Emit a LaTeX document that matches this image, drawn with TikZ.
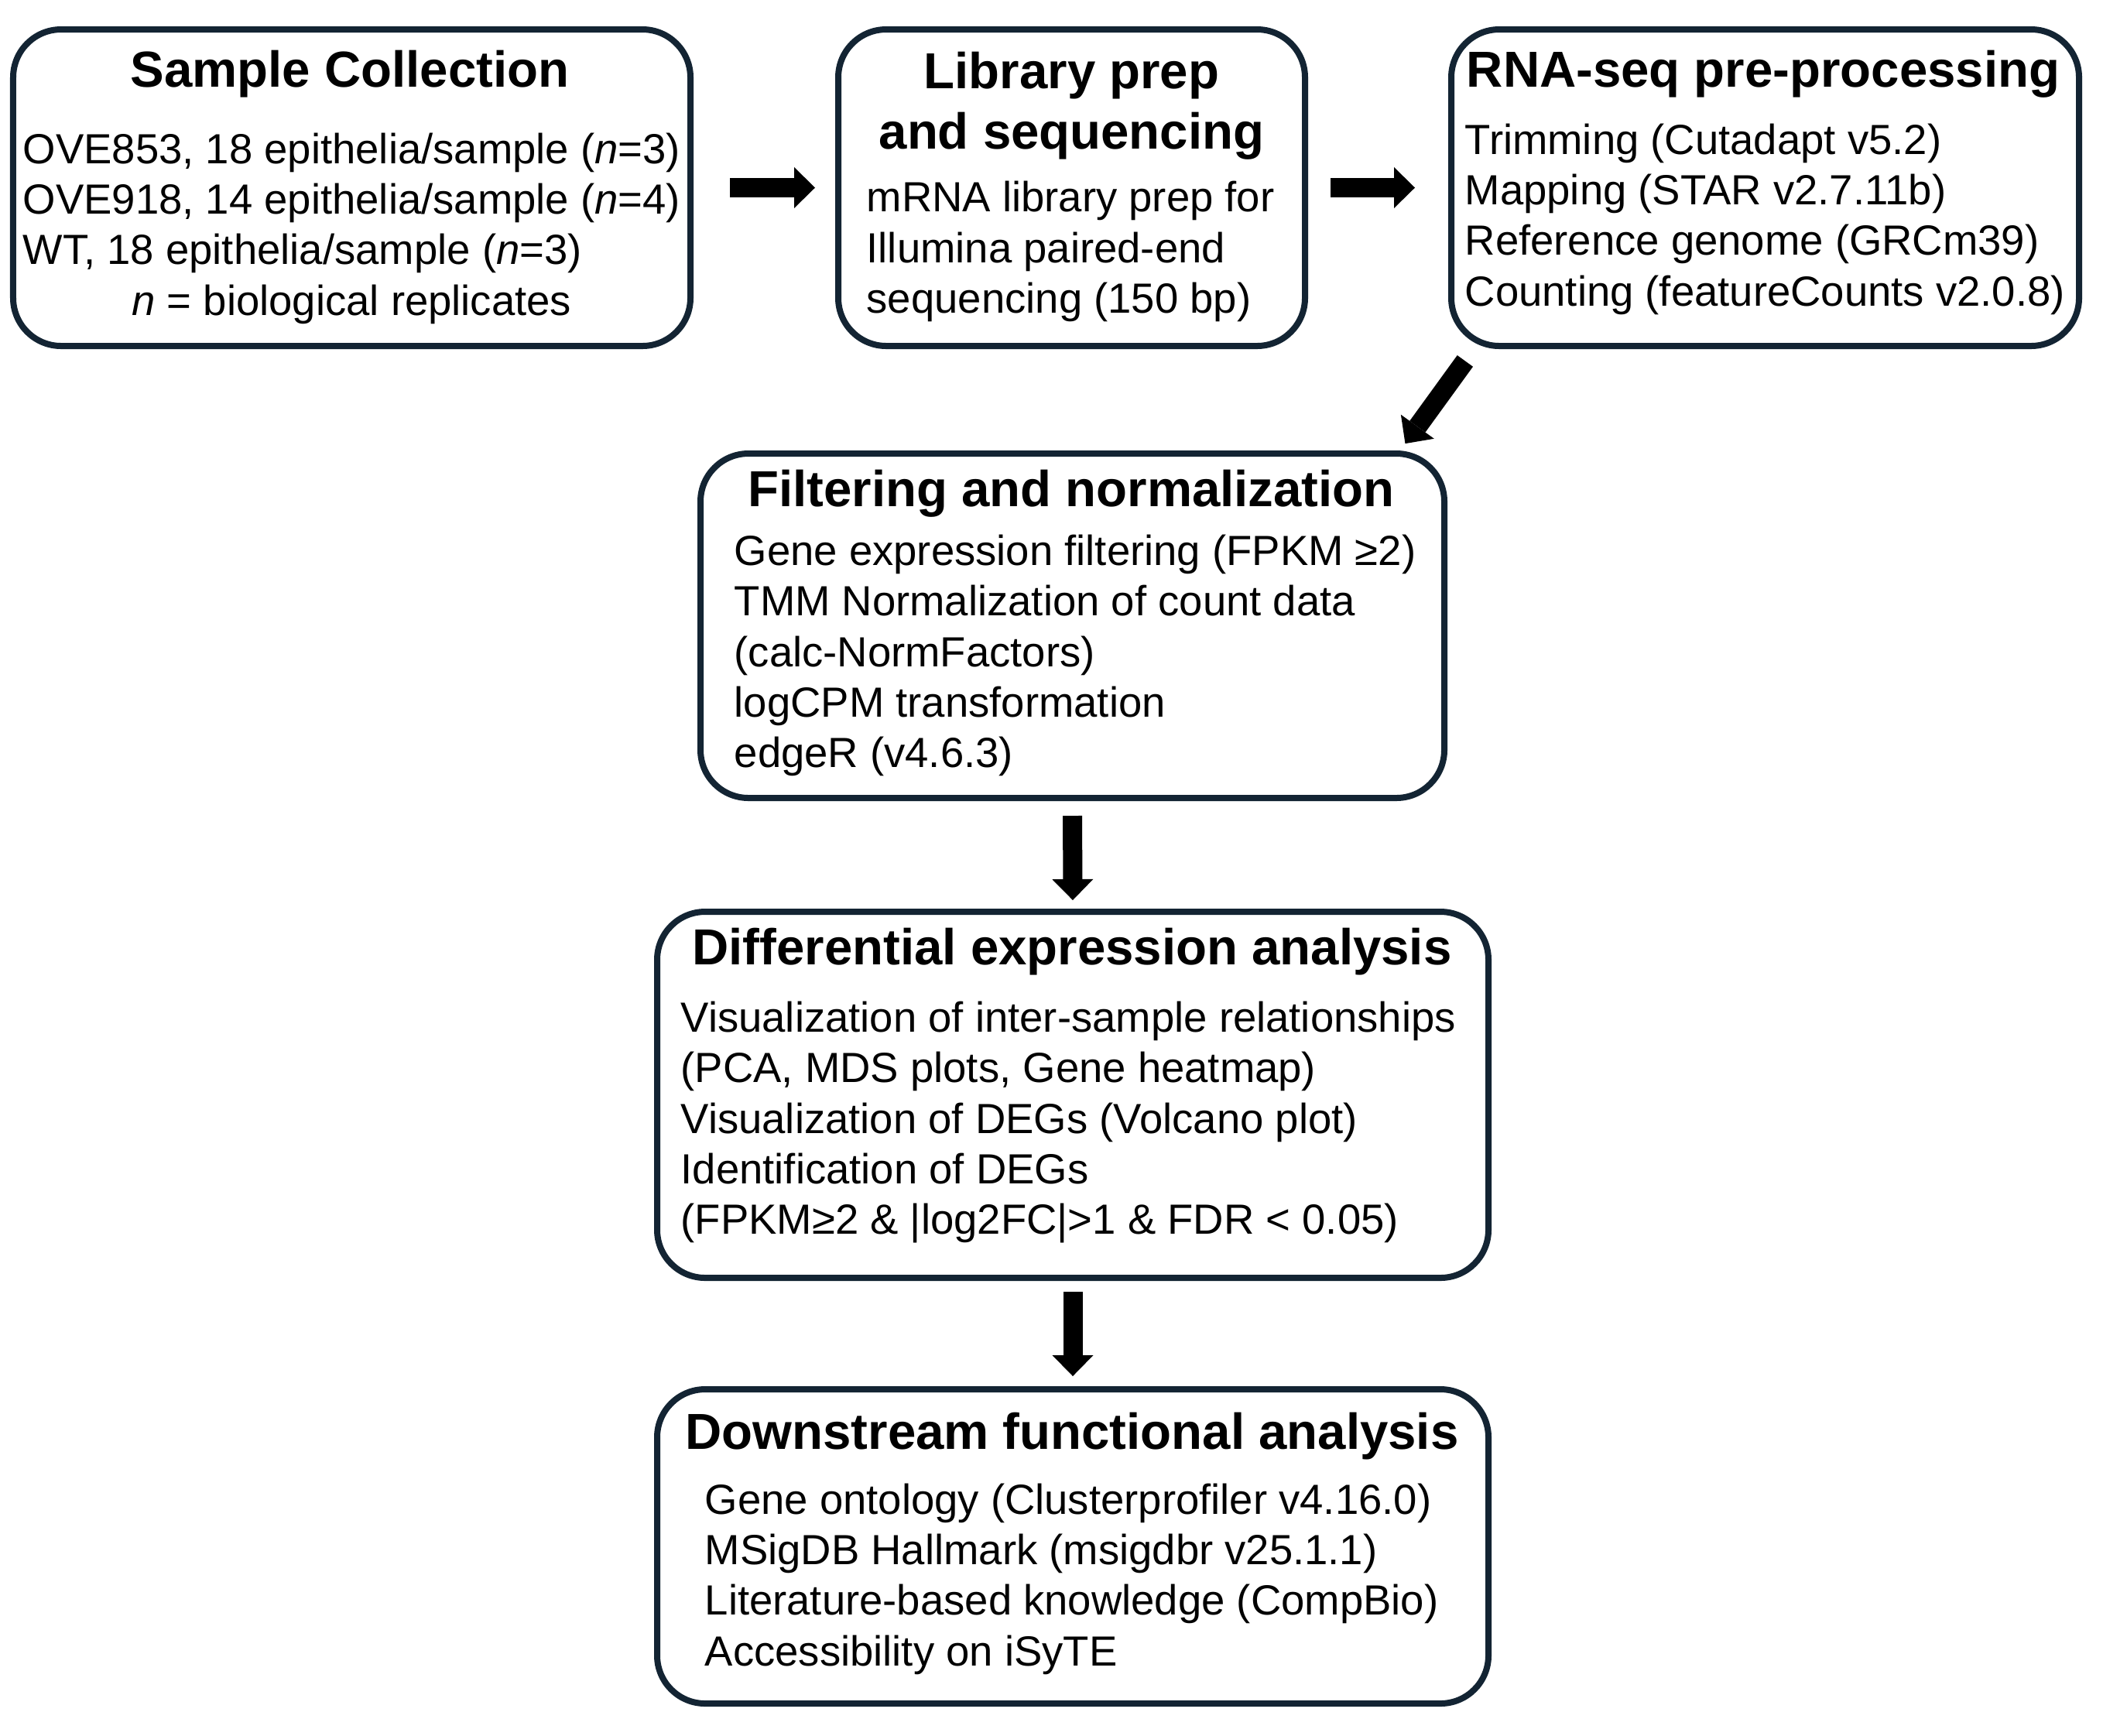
\documentclass[tikz,border=0pt]{standalone}
\usepackage{fontspec}
\setmainfont{Liberation Sans}
\definecolor{boxnavy}{RGB}{19, 36, 51}
\usetikzlibrary{arrows.meta, positioning}

\begin{document}
\begin{tikzpicture}[
  stage/.style={draw=boxnavy, line width=0.08cm, rounded corners=0.62cm, inner sep=0pt},
  ttl/.style={font=\fontsize{18.6}{22.3}\selectfont\bfseries, align=center, inner sep=0pt},
  txt/.style={font=\fontsize{15.5}{18.6}\selectfont, align=left, inner sep=0pt, anchor=west},
  flow/.style={line width=0.25cm, -{Triangle[width=0.53cm, length=0.27cm, line width=0pt]}}
]
  \useasboundingbox (0,0) rectangle (27.17,-22.42);

  \node[stage, minimum width=8.75cm, minimum height=4.09cm] (sc) at (4.545,-2.425) {};
  \node[stage, minimum width=6.03cm, minimum height=4.09cm] (lp) at (13.845,-2.425) {};
  \node[stage, minimum width=8.11cm, minimum height=4.09cm] (rp) at (22.805,-2.425) {};
  \node[stage, minimum width=9.61cm, minimum height=4.45cm] (fn) at (13.855,-8.085) {};
  \node[stage, minimum width=10.74cm, minimum height=4.73cm] (de) at (13.86,-14.145) {};
  \node[stage, minimum width=10.74cm, minimum height=4.06cm] (da) at (13.86,-19.98) {};

  \node[ttl] (sc-t) at (4.52,-0.96) {Sample Collection};
  \node[txt] (sc-b) at (0.29,-2.96) {\begin{tabular}{@{}l@{}}
    OVE853, 18 epithelia/sample (\textit{n}=3)\\
    OVE918, 14 epithelia/sample (\textit{n}=4)\\
    WT, 18 epithelia/sample (\textit{n}=3)\\
    \multicolumn{1}{@{}c@{}}{\textit{n} = biological replicates}
  \end{tabular}};

  \node[ttl] (lp-t) at (13.845,-1.37) {Library prep\\and sequencing};
  \node[txt] (lp-b) at (11.19,-3.25) {mRNA library prep for\\Illumina paired-end\\sequencing (150 bp)};

  \node[ttl] (rp-t) at (22.78,-0.96) {RNA-seq pre-processing};
  \node[txt] (rp-b) at (18.92,-2.83) {Trimming (Cutadapt v5.2)\\Mapping (STAR v2.7.11b)\\Reference genome (GRCm39)\\Counting (featureCounts v2.0.8)};

  \node[ttl] (fn-t) at (13.84,-6.38) {Filtering and normalization};
  \node[txt] (fn-b) at (9.48,-8.47) {Gene expression filtering (FPKM ≥2)\\TMM Normalization of count data\\(calc-NormFactors)\\logCPM transformation\\edgeR (v4.6.3)};

  \node[ttl] (de-t) at (13.85,-12.30) {Differential expression analysis};
  \node[txt] (de-b) at (8.79,-14.50) {Visualization of inter-sample relationships\\(PCA, MDS plots, Gene heatmap)\\Visualization of DEGs (Volcano plot)\\Identification of DEGs\\(FPKM≥2 \& |log2FC|>1 \& FDR < 0.05)};

  \node[ttl] (da-t) at (13.85,-18.56) {Downstream functional analysis};
  \node[txt] (da-b) at (9.10,-20.40) {Gene ontology (Clusterprofiler v4.16.0)\\MSigDB Hallmark (msigdbr v25.1.1)\\Literature-based knowledge (CompBio)\\Accessibility on iSyTE};

  \draw[flow, shorten <=0.47cm, shorten >=0.26cm] (sc.east) -- (lp.west);
  \draw[flow, shorten <=0.29cm, shorten >=0.43cm] (lp.east) -- (rp.west);
  \draw[flow, shorten <=0.19cm, shorten >=0.11cm] ([xshift=-3.765cm]rp.south) -- ([xshift=4.235cm]fn.north);
  \draw[flow, shorten <=0.19cm, shorten >=0.11cm] (fn.south) -- (de.north);
  \draw[flow, shorten <=0.14cm, shorten >=0.13cm] (de.south) -- (da.north);
\end{tikzpicture}
\end{document}
